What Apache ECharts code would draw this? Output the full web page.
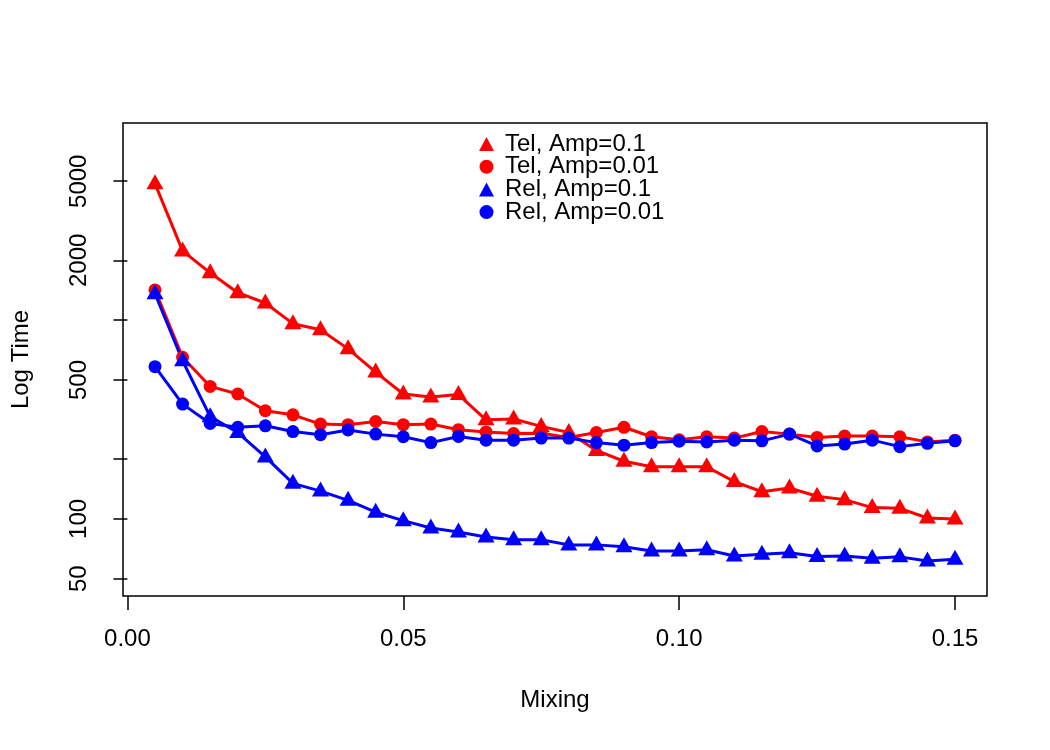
<!DOCTYPE html>
<html>
<head>
<meta charset="utf-8">
<script src="https://cdn.jsdelivr.net/npm/echarts@6/dist/echarts.min.js"></script>
<style>
  html, body { margin: 0; padding: 0; background: #fff; }
  #chart { width: 1050px; height: 750px; }
</style>
</head>
<body>
<div id="chart"></div>
<script>
// Mixing values on the x axis
const mixing = [0.005, 0.01, 0.015, 0.02, 0.025, 0.03, 0.035, 0.04, 0.045, 0.05,
  0.055, 0.06, 0.065, 0.07, 0.075, 0.08, 0.085, 0.09, 0.095, 0.1,
  0.105, 0.11, 0.115, 0.12, 0.125, 0.13, 0.135, 0.14, 0.145, 0.15];

// Times
const telAmp01 = [4860, 2230, 1730, 1375, 1220, 960, 895, 717, 548, 425,
  410, 422, 315, 318, 292, 272, 221, 195, 183, 183,
  183, 154, 137, 143, 130, 125, 114, 113, 101, 100];
const telAmp001 = [1420, 650, 464, 425, 350, 334, 300, 298, 309, 298,
  300, 281, 274, 269, 270, 257, 272, 289, 259, 250,
  259, 255, 275, 267, 257, 261, 261, 259, 244, 249];
const relAmp01 = [1357, 625, 327, 272, 205, 151, 138, 124, 108, 98,
  90, 86, 81, 78.6, 78.6, 74, 74, 72.5, 69, 69,
  70, 65, 66.4, 67.6, 64.6, 65, 63.4, 64.4, 61.4, 62.6];
const relAmp001 = [583, 378, 302, 289, 294, 275, 265, 280, 267, 259,
  242, 260, 249, 249, 255, 255, 242, 235, 242, 246,
  244, 249, 247, 267, 233, 238, 249, 231, 240, 247];

const xTicks = [0, 0.05, 0.1, 0.15];
const yTicks = [50, 100, 200, 500, 1000, 2000, 5000];
const yLabels = [50, 100, 500, 2000, 5000];

const FONT = "Liberation Sans";
const log10 = (v) => Math.log10(v);
const pairs = (ys) => mixing.map((x, i) => [x, log10(ys[i])]);

const seriesDefs = [
  { name: "Tel, Amp=0.1", data: telAmp01, color: "#ff0000", symbol: "triangle" },
  { name: "Tel, Amp=0.01", data: telAmp001, color: "#ff0000", symbol: "circle" },
  { name: "Rel, Amp=0.1", data: relAmp01, color: "#0000ff", symbol: "triangle" },
  { name: "Rel, Amp=0.01", data: relAmp001, color: "#0000ff", symbol: "circle" },
];

const chart = echarts.init(document.getElementById("chart"));

chart.setOption({
  animation: false,
  backgroundColor: "#ffffff",
  textStyle: { fontFamily: FONT },
  grid: {
    left: 123,
    top: 123,
    right: 63,
    bottom: 154,
    show: true,
    borderColor: "#000",
    borderWidth: 1.5,
    backgroundColor: "transparent",
  },
  legend: {
    orient: "vertical",
    left: 474,
    top: 127,
    itemGap: -1.3,
    itemWidth: 15,
    itemHeight: 14,
    textStyle: {
      fontFamily: FONT,
      fontSize: 24,
      color: "#000",
      lineHeight: 22.5,
      padding: [0, 0, 0, 6],
    },
    data: seriesDefs.map((s) => ({ name: s.name, icon: s.symbol })),
  },
  xAxis: {
    type: "value",
    min: -0.0008,
    max: 0.1558,
    name: "Mixing",
    nameLocation: "middle",
    nameGap: 92,
    nameTextStyle: { fontFamily: FONT, fontSize: 24, color: "#000" },
    axisLine: { show: false },
    splitLine: { show: false },
    axisTick: {
      show: true,
      length: 14,
      customValues: xTicks,
      lineStyle: { color: "#000", width: 1.5 },
    },
    axisLabel: {
      customValues: xTicks,
      margin: 31,
      fontFamily: FONT,
      fontSize: 24,
      color: "#000",
      formatter: (v) => v.toFixed(2),
    },
  },
  yAxis: {
    type: "value",
    min: 1.612,
    max: 3.992,
    name: "Log Time",
    nameLocation: "middle",
    nameGap: 90,
    nameTextStyle: { fontFamily: FONT, fontSize: 24, color: "#000" },
    axisLine: { show: false },
    splitLine: { show: false },
    axisTick: {
      show: true,
      length: 14,
      customValues: yTicks.map(log10),
      lineStyle: { color: "#000", width: 1.5 },
    },
    axisLabel: {
      customValues: yLabels.map(log10),
      rotate: 90,
      margin: 32,
      fontFamily: FONT,
      fontSize: 24,
      color: "#000",
      formatter: (v) => String(Math.round(Math.pow(10, v))),
    },
  },
  series: seriesDefs.map((s) => ({
    name: s.name,
    type: "line",
    data: pairs(s.data),
    symbol: s.symbol,
    symbolSize: s.symbol === "triangle" ? [17, 15] : 13,
    symbolOffset: s.symbol === "triangle" ? [0, -2] : [0, 0],
    showAllSymbol: true,
    color: s.color,
    lineStyle: { color: s.color, width: 3 },
    itemStyle: { color: s.color },
  })),
});
</script>
</body>
</html>
